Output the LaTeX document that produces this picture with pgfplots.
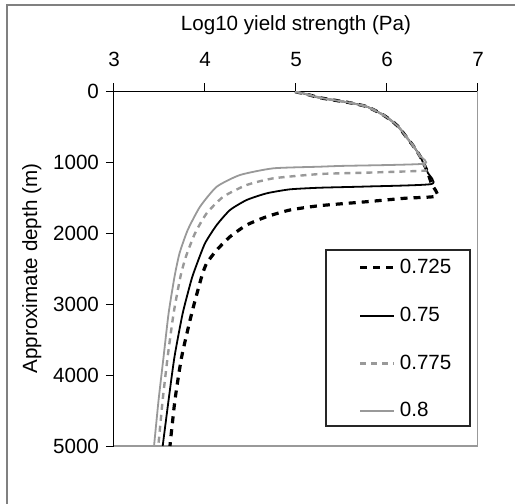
\documentclass[border=0pt]{standalone}
\usepackage{pgfplots}
\pgfplotsset{compat=1.18}
\usepackage{fontspec}
\setmainfont{Liberation Sans}

\definecolor{lgrey}{HTML}{999999}
\definecolor{framegrey}{HTML}{808080}

\begin{document}
\begin{tikzpicture}
\path[use as bounding box] (0,0) rectangle (257.5pt,252pt);
\draw[framegrey, line width=1pt] (3.5pt,-2pt) -- (3.5pt,249.5pt) -- (260pt,249.5pt);
\begin{axis}[
  at={(57pt,29pt)}, anchor=south west,
  width=182pt, height=177.5pt, scale only axis,
  xmin=3, xmax=7, ymin=0, ymax=5000, y dir=reverse,
  axis x line*=top, axis y line*=left,
  axis line style={black, line width=0.5pt},
  xtick={3,4,5,6,7}, ytick={0,1000,2000,3000,4000,5000},
  tick align=outside, major tick length=4pt,
  tick style={black, line width=0.5pt},
  /pgf/number format/assume math mode=true,
  /pgf/number format/1000 sep={},
  ticklabel style={font=\fontsize{10.3}{12}\selectfont},
  xticklabel style={yshift=4.5pt},
  label style={font=\fontsize{10.3}{12}\selectfont},
  xlabel style={yshift=2pt},
  ylabel style={yshift=-1pt},
  xlabel={Log10 yield strength (Pa)},
  ylabel={Approximate depth (m)},
  legend cell align=left,
  legend style={at={(0.805,0.300)}, anchor=center, draw=none, fill=none,
    font=\fontsize{10.3}{12}\selectfont, row sep=11.2pt},
  legend image code/.code={\draw[#1] (0pt,0pt) -- (17pt,0pt);},
  every axis plot/.append style={smooth, tension=0.35},
]
\draw[lgrey, line width=0.75pt] (axis cs:3,5000) -- (axis cs:7,5000) -- (axis cs:7,0);
% legend frame
\draw[black!85, line width=0.7pt] (axis cs:5.330,2240) rectangle (axis cs:6.912,4718);

% 0.725
\addplot[black, line width=1.6pt, dash pattern=on 3.5pt off 3pt] coordinates {
(4.99,10) (5.10,40) (5.26,94) (5.45,135) (5.59,165) (5.78,221) (5.96,338)
(6.08,450) (6.14,525) (6.22,660) (6.29,775) (6.36,910) (6.40,1017) (6.42,1066)
(6.45,1155) (6.49,1310) (6.55,1479)
(6.20,1510) (5.78,1559) (5.26,1615) (4.934,1676) (4.678,1770) (4.458,1887)
(4.275,2052) (4.129,2240) (4.018,2427) (3.963,2616) (3.854,3131) (3.744,3742)
(3.67,4352) (3.615,5000)
};
\addlegendentry{0.725}
% 0.75
\addplot[black, line width=0.9pt] coordinates {
(4.99,10) (5.10,40) (5.26,94) (5.45,135) (5.59,165) (5.78,221) (5.96,338)
(6.08,450) (6.14,525) (6.22,660) (6.29,775) (6.36,910) (6.40,1017) (6.42,1066)
(6.45,1155) (6.49,1310)
(5.78,1345) (5.264,1362) (4.934,1385) (4.678,1441) (4.458,1535) (4.275,1676)
(4.129,1887) (4.00,2145) (3.90,2474) (3.85,2662) (3.755,3131) (3.665,3742)
(3.60,4352) (3.535,5000)
};
\addlegendentry{0.75}
% 0.775
\addplot[lgrey, line width=1.2pt, dash pattern=on 3pt off 2.5pt] coordinates {
(4.99,10) (5.10,40) (5.26,94) (5.45,135) (5.59,165) (5.78,221) (5.96,338)
(6.08,450) (6.14,525) (6.22,660) (6.29,775) (6.36,910) (6.40,1017) (6.42,1066)
(6.43,1120)
(5.78,1150) (5.264,1169) (4.751,1230) (4.458,1324) (4.201,1489) (4.018,1723)
(3.89,2005) (3.79,2334) (3.73,2616) (3.655,3131) (3.59,3742) (3.535,4352)
(3.487,5000)
};
\addlegendentry{0.775}
% 0.8
\addplot[lgrey, line width=0.9pt] coordinates {
(4.99,10) (5.10,40) (5.26,94) (5.45,135) (5.59,165) (5.78,221) (5.96,338)
(6.08,450) (6.14,525) (6.22,660) (6.29,775) (6.36,910) (6.40,1025)
(5.50,1055) (5.264,1066) (4.751,1089) (4.385,1183) (4.129,1348) (3.945,1630)
(3.81,1958) (3.72,2286) (3.665,2616) (3.60,3131) (3.545,3742) (3.49,4352)
(3.44,5000)
};
\addlegendentry{0.8}
\end{axis}
\end{tikzpicture}
\end{document}
